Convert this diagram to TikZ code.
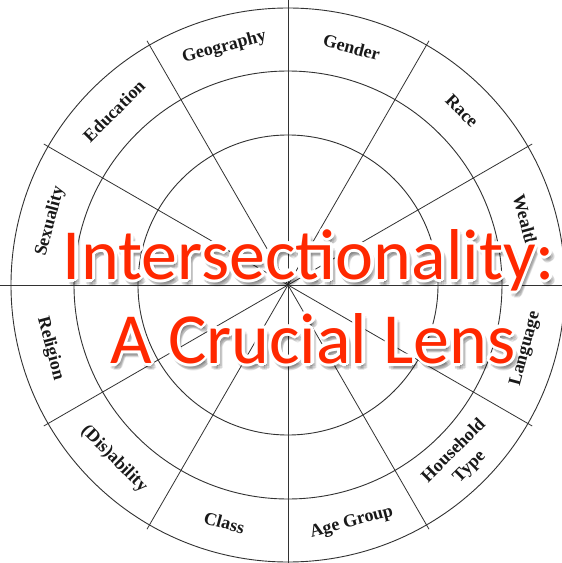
\documentclass[tikz,border=0pt]{standalone}
\usepackage{fontspec}
\setmainfont{Liberation Serif}
\newfontfamily\titlefont{Carlito}
\definecolor{wheelgray}{RGB}{50,50,50}
\definecolor{titlered}{RGB}{255,40,0}
\tikzset{
  ring/.style={draw=wheelgray,line width=0.9pt},
  spoke/.style={draw=wheelgray,line width=0.8pt},
  lens/.style={font=\bfseries\fontsize{18}{22}\selectfont,align=center,inner sep=0pt,text=black!90},
  headline/.style={font=\titlefont\fontsize{72}{80}\selectfont,anchor=base,inner sep=0pt},
}
% title text with soft shadow and white rim
\def\glowtext#1#2#3{
  \foreach \ang in {0,45,...,315}
    \node[headline,text=black,opacity=0.09,shift={(3pt,-5pt)},shift={(\ang:2.5pt)}] at (#1) {#3};
  \foreach \ang in {0,30,...,330}
    \node[headline,text=white,shift={(\ang:3.2pt)}] at (#1) {#3};
  \node[headline,text=titlered] (#2) at (#1) {#3};
}

\begin{document}
\begin{tikzpicture}[x=1pt,y=1pt]

  \useasboundingbox[fill=white] (-288,-278) rectangle (274,285);

  % define to change easily
  \def\rin{150pt}
  \def\rmid{214pt}
  \def\rout{277pt}
  \def\rlab{246pt}
  \def\rspoke{282pt}

  % rings
  \draw[ring] (0,0) circle (\rin);
  \draw[ring] (0,0) circle (\rmid);
  \draw[ring] (0,0) circle (\rout);

  % spokes
  \draw[spoke] (0:290pt) -- (180:290pt);
  \draw[spoke] (30:\rspoke) -- (210:\rspoke);
  \draw[spoke] (60:\rspoke) -- (240:\rspoke);
  \draw[spoke] (90:290pt) -- (270:\rspoke);
  \draw[spoke] (120:\rspoke) -- (300:\rspoke);
  \draw[spoke] (150:\rspoke) -- (330:\rspoke);
  \fill[wheelgray] (0,0) circle (1.6pt);

  % labels
  \node[lens,rotate=-15] (gender) at (75:\rlab) {Gender};
  \node[lens,rotate=-45] (race) at (45:\rlab) {Race};
  \node[lens,rotate=-75] (wealth) at (15:\rlab) {Wealth};
  \node[lens,rotate=75] (language) at (-15:\rlab) {Language};
  \node[lens,rotate=45] (household) at (-45:\rlab) {Household\\Type};
  \node[lens,rotate=15] (agegroup) at (-75:\rlab) {Age Group};
  \node[lens,rotate=-15] (class) at (-105:\rlab) {Class};
  \node[lens,rotate=-45] (disability) at (-135:\rlab) {(Dis)ability};
  \node[lens,rotate=-75] (religion) at (-165:\rlab) {Religion};
  \node[lens,rotate=75] (sexuality) at (165:\rlab) {Sexuality};
  \node[lens,rotate=45] (education) at (135:\rlab) {Education};
  \node[lens,rotate=15] (geography) at (105:\rlab) {Geography};

  % title
  \coordinate (titleA) at (21,6);
  \coordinate (titleB) at (25,-78);
  \glowtext{titleA}{title1}{Intersectionality:}
  \glowtext{titleB}{title2}{A Crucial Lens}

\end{tikzpicture}
\end{document}
